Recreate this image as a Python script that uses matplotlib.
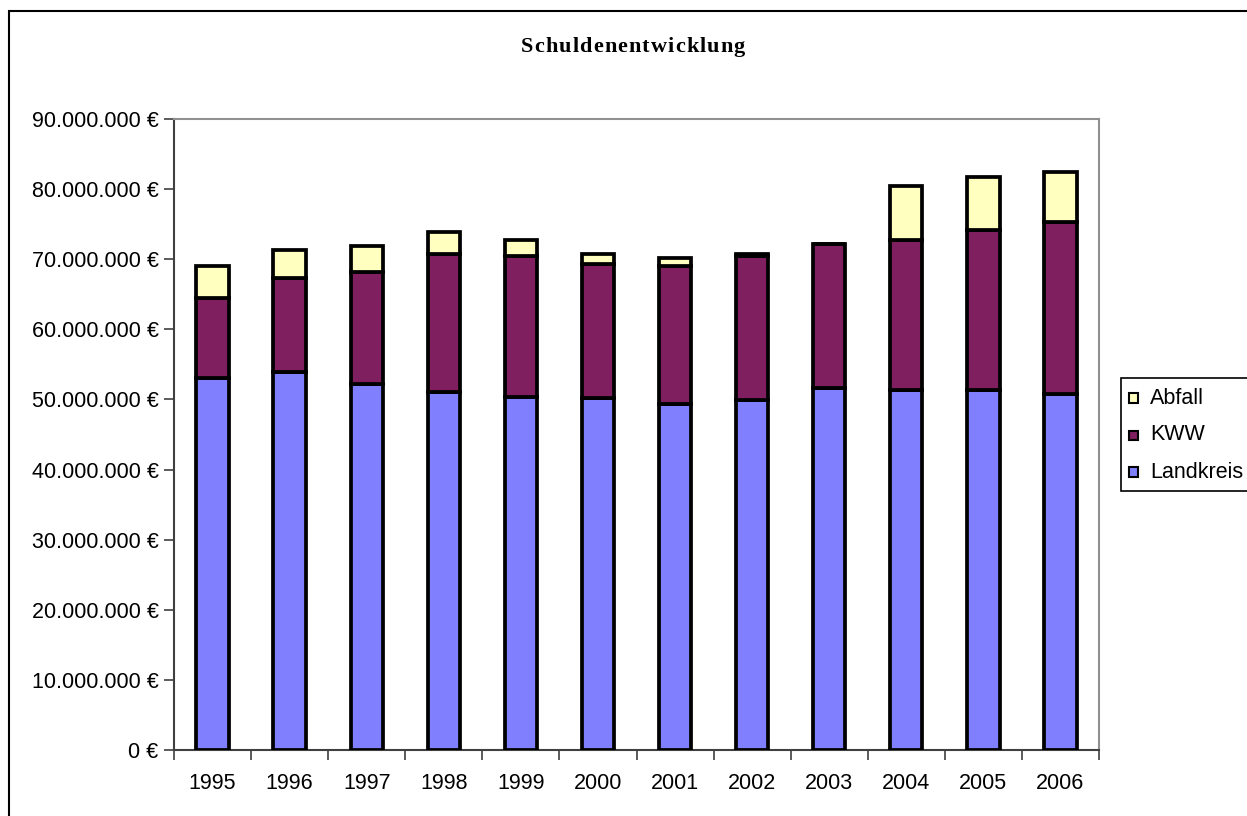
import matplotlib
matplotlib.use("Agg")
import matplotlib.pyplot as plt
from matplotlib.patches import Rectangle
from matplotlib.ticker import FuncFormatter, MultipleLocator
import numpy as np

# Debt figures in million euro
years = ["1995", "1996", "1997", "1998", "1999", "2000",
         "2001", "2002", "2003", "2004", "2005", "2006"]
landkreis = [53.0, 53.9, 52.2, 51.06, 50.4, 50.16, 49.37, 49.92, 51.63, 51.35, 51.3, 50.73]
kww = [11.5, 13.47, 15.98, 19.69, 20.06, 19.16, 19.66, 20.58, 20.57, 21.39, 22.87, 24.58]
abfall = [4.58, 3.99, 3.75, 3.18, 2.33, 1.48, 1.19, 0.25, 0.0, 7.75, 7.51, 7.18]

series_names = ["Landkreis", "KWW", "Abfall"]
series_colors = ["#8080FF", "#7F1F5F", "#FFFFC0"]
title = "Schuldenentwicklung"

W, H = 1247, 816
fig = plt.figure(figsize=(W / 100, H / 100), dpi=100)
fig.patch.set_facecolor("white")


def fx(px):
    return px / W


def fy(py):
    return 1 - py / H


# outer chart frame
fig.add_artist(Rectangle((fx(9), -0.1), 1.2, fy(11) + 0.1, transform=fig.transFigure,
                         fill=False, edgecolor="black", linewidth=1.5))

ax = fig.add_axes([fx(174), fy(750), fx(1099) - fx(174), fy(119) - fy(750)])

x = np.arange(len(years))
vals = [np.array(landkreis) * 1e6, np.array(kww) * 1e6, np.array(abfall) * 1e6]
bottom = np.zeros(len(years))
for name, v, c in zip(series_names, vals, series_colors):
    ax.bar(x, v, bottom=bottom, width=0.42, color=c, edgecolor="black",
           linewidth=2.7, label=name, zorder=3)
    bottom = bottom + v

ax.set_xlim(-0.5, len(years) - 0.5)
ax.set_ylim(0, 90e6)
ax.yaxis.set_major_locator(MultipleLocator(10e6))


def euro(v, pos):
    s = f"{int(round(v)):,}".replace(",", ".")
    return f"{s} €"


ax.yaxis.set_major_formatter(FuncFormatter(euro))
ax.set_xticks(x)
ax.set_xticklabels(years)
ax.set_xticks(np.arange(-0.5, len(years), 1.0), minor=True)
ax.tick_params(axis="x", which="major", length=0, pad=16.5, labelsize=15.5)
ax.tick_params(axis="x", which="minor", length=7, width=1.2, color="#404040")
ax.tick_params(axis="y", which="major", length=7, width=1.2, color="#404040",
               pad=4, labelsize=15.5)
for lab in ax.get_xticklabels() + ax.get_yticklabels():
    lab.set_fontfamily("Liberation Sans")

for side in ["left", "bottom"]:
    ax.spines[side].set_color("#404040")
    ax.spines[side].set_linewidth(1.5)
for side in ["top", "right"]:
    ax.spines[side].set_color("#909090")
    ax.spines[side].set_linewidth(1.5)

# title drawn letter by letter with extra tracking
renderer = fig.canvas.get_renderer()
tprops = dict(fontfamily="Liberation Serif", fontweight="bold", fontsize=16)
spacing = 1.1
probe = fig.text(0, 0, title, **tprops)
full_w = probe.get_window_extent(renderer).width
probe.remove()
total_w = full_w + spacing * (len(title) - 1)
x0 = 633 - total_w / 2
for i, ch in enumerate(title):
    if i > 0:
        p = fig.text(0, 0, title[:i], **tprops)
        off = p.get_window_extent(renderer).width
        p.remove()
    else:
        off = 0.0
    fig.text(fx(x0 + off + spacing * i), fy(47), ch, ha="left", va="center", **tprops)

# legend box, running out past the right edge
fig.add_artist(Rectangle((fx(1121), fy(491)), 0.2, fy(378) - fy(491),
                         transform=fig.transFigure, facecolor="white",
                         edgecolor="black", linewidth=1.2))
row_y = [398, 435, 472]
for yy, name, c in zip(row_y, series_names[::-1], series_colors[::-1]):
    fig.add_artist(Rectangle((fx(1129), fy(yy + 4.5)), fx(9), fy(yy - 4.5) - fy(yy + 4.5),
                             transform=fig.transFigure, facecolor=c,
                             edgecolor="black", linewidth=1.5))
    fig.text(fx(1150), fy(yy), name, ha="left", va="center",
             fontfamily="Liberation Sans", fontsize=15.5)

fig.savefig("out.png", dpi=100, facecolor="white")
